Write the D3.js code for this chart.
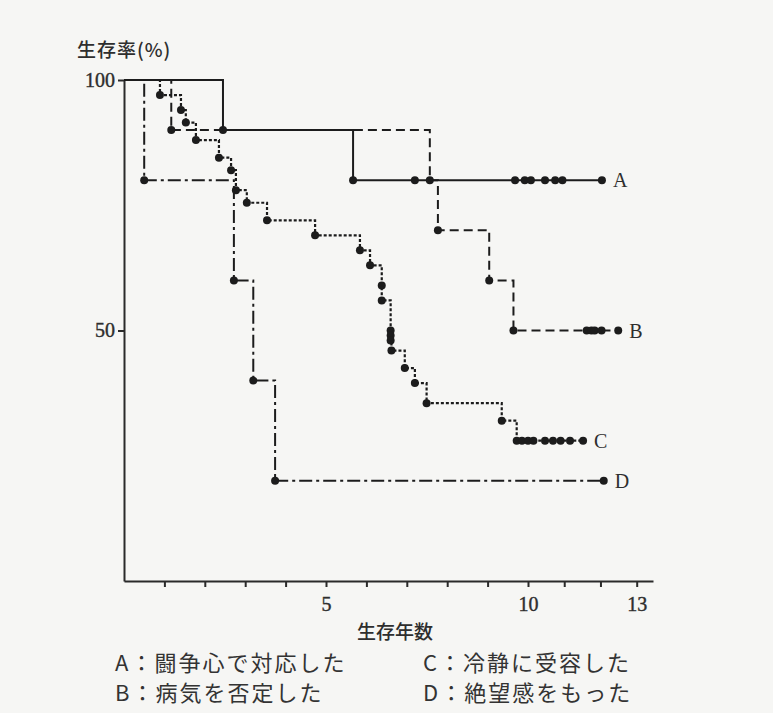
<!DOCTYPE html>
<html>
<head>
<meta charset="utf-8">
<script src="https://cdn.jsdelivr.net/npm/d3@7"></script>
<style>
  body { margin: 0; background: #f6f6f4; }
  svg { display: block; }
</style>
</head>
<body>
<div id="chart"></div>
<script>
// survival curves, times in years, values in %
const groups = ['A', 'B', 'C', 'D'];
const legendLabels = ['A：闘争心で対応した', 'B：病気を否定した', 'C：冷静に受容した', 'D：絶望感をもった'];

const eventsA = [[2.45, 90], [5.67, 80]];
const censorA = [7.2, 9.68, 9.92, 10.08, 10.47, 10.75, 10.95, 12.04];

const eventsB = [[1.17, 90], [7.57, 80], [7.77, 70], [9.04, 60], [9.64, 50]];
const censorB = [11.62, 11.75, 11.84, 12.03, 12.49];

const eventsC = [
  [0.89, 97], [1.41, 94], [1.53, 91.5], [1.78, 88], [2.35, 84.5], [2.65, 82],
  [2.77, 78], [3.04, 75.5], [3.54, 72], [4.73, 69], [5.84, 66], [6.09, 63],
  [6.38, 59], [6.38, 56], [6.6, 50], [6.6, 49], [6.6, 48], [6.62, 46],
  [6.95, 42.5], [7.2, 39.5], [7.49, 35.5], [9.35, 32], [9.72, 28]
];
const censorC = [9.85, 10.0, 10.15, 10.47, 10.69, 10.9, 11.16, 11.52];

const eventsD = [[0.5, 80], [2.72, 60], [3.2, 40], [3.74, 20]];
const censorD = [12.09];

const xTicks = d3.range(1, 14);
const xTickLabels = [5, 10, 13];
const yTicks = [50, 100];

const width = 773;
const height = 713;

const svg = d3.select('#chart').append('svg')
  .attr('width', width)
  .attr('height', height);

svg.append('rect').attr('width', width).attr('height', height).attr('fill', '#f6f6f4');

// x axis is squeezed after 10 years in the original
const x = d3.scaleLinear().domain([0, 10, 13.45]).range([124, 528, 653]);
const y = d3.scaleLinear().domain([0, 100]).range([581, 80]);

const ink = '#1c1c1c';
const serif = '"Liberation Serif", "DejaVu Serif", serif';

const xAxis = d3.axisBottom(x)
  .tickValues(xTicks)
  .tickFormat(d => (xTickLabels.includes(d) ? d : ''))
  .tickSize(6)
  .tickSizeOuter(0)
  .tickPadding(10);

const gx = svg.append('g')
  .attr('transform', `translate(0,${y(0)})`)
  .call(xAxis);

const yAxis = d3.axisLeft(y)
  .tickValues(yTicks)
  .tickSize(6)
  .tickSizeOuter(0)
  .tickPadding(3);

const gy = svg.append('g')
  .attr('transform', `translate(${x(0)},0)`)
  .call(yAxis);

[gx, gy].forEach(g => {
  g.attr('font-family', serif);
  g.select('.domain').attr('stroke', '#2a2a2a').attr('stroke-width', 2);
  g.selectAll('.tick line').attr('stroke', '#2a2a2a').attr('stroke-width', 2);
  g.selectAll('.tick text')
    .attr('fill', '#2e2e2e')
    .attr('stroke', '#2e2e2e')
    .attr('stroke-width', 0.4)
    .attr('font-family', serif)
    .attr('font-size', 20);
});

const series = [
  { name: 'A', events: eventsA, censor: censorA, dash: null, width: 2 },
  { name: 'B', events: eventsB, censor: censorB, dash: '9,5', width: 2 },
  { name: 'C', events: eventsC, censor: censorC, dash: '3,2', width: 2.2 },
  { name: 'D', events: eventsD, censor: censorD, dash: '13,4,3,4', width: 2 }
];

const line = d3.line()
  .x(d => x(d[0]))
  .y(d => y(d[1]))
  .curve(d3.curveStepAfter);

series.forEach(s => {
  const last = s.events[s.events.length - 1][1];
  const end = d3.max(s.censor);
  const pts = [[0, 100]].concat(s.events, [[end, last]]);

  svg.append('path')
    .datum(pts)
    .attr('d', line)
    .attr('fill', 'none')
    .attr('stroke', ink)
    .attr('stroke-width', s.width)
    .attr('stroke-dasharray', s.dash);

  const dots = s.events.concat(s.censor.map(t => [t, last]));
  svg.append('g')
    .selectAll('circle')
    .data(dots)
    .join('circle')
    .attr('cx', d => x(d[0]))
    .attr('cy', d => y(d[1]))
    .attr('r', 4)
    .attr('fill', ink);

  svg.append('text')
    .attr('x', x(end) + 11)
    .attr('y', y(last))
    .attr('dy', '0.35em')
    .attr('fill', '#2e2e2e')
    .attr('font-family', serif)
    .attr('font-size', 20)
    .text(s.name);
});

const jp = '"Noto Sans CJK JP", "Noto Sans", sans-serif';

svg.append('text')
  .attr('x', 77)
  .attr('y', 57)
  .attr('fill', '#2e2e2e')
  .attr('font-family', jp)
  .attr('font-size', 19)
  .attr('font-weight', 500)
  .attr('letter-spacing', 1)
  .text('生存率(%)');

svg.append('text')
  .attr('x', (x(5) + x(10)) / 2 - 70)
  .attr('y', 639)
  .attr('fill', '#2e2e2e')
  .attr('font-family', jp)
  .attr('font-size', 19)
  .attr('font-weight', 500)
  .text('生存年数');

svg.append('g')
  .selectAll('text')
  .data(legendLabels)
  .join('text')
  .attr('x', (d, i) => (i < 2 ? 115 : 423))
  .attr('y', (d, i) => 671 + (i % 2) * 30)
  .attr('fill', '#333')
  .attr('font-family', jp)
  .attr('font-size', 22)
  .attr('letter-spacing', 2)
  .text(d => d);
</script>
</body>
</html>
